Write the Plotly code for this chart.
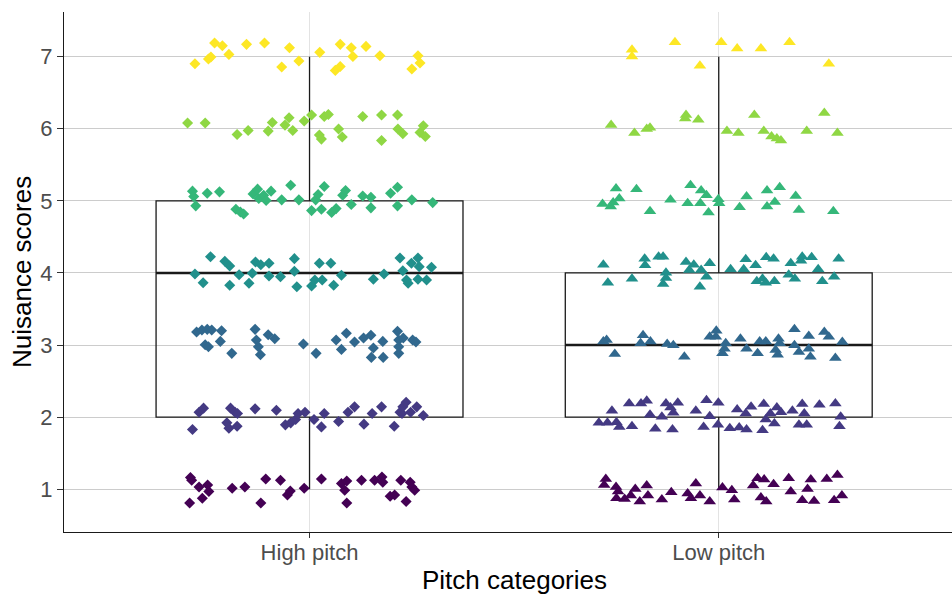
import plotly.graph_objects as go

# ---- data ----
categories = ["High pitch", "Low pitch"]
cat_pos = [1, 2]

# box statistics (score units)
box_q1 = [2, 2]
box_median = [4, 3]
box_q3 = [5, 4]
box_lower = [1, 1]
box_upper = [7, 7]

y_ticks = [1, 2, 3, 4, 5, 6, 7]
viridis7 = ["#440154", "#443A83", "#31688E", "#21908C", "#35B779", "#8FD744", "#FDE725"]

# jittered points: horizontal offset from category centre, jittered score
high_dx = [
    -0.280, -0.247, -0.241, -0.232, -0.213, -0.197, -0.154, -0.110, -0.068, -0.049, -0.026, 0.025, 0.063, 0.075, 0.075, 0.102, 0.106, 0.138, 0.172, 0.250, 0.265, 0.270,
    -0.298, -0.255, -0.177, -0.150, -0.101, -0.091, -0.060, -0.050, -0.041, -0.013, 0.005, 0.024, 0.029, 0.036, 0.046, 0.071, 0.080, 0.130, 0.176, 0.176, 0.215, 0.216, 0.228, 0.270, 0.278, 0.283,
    -0.286, -0.283, -0.278, -0.250, -0.220, -0.180, -0.169, -0.161, -0.138, -0.127, -0.124, -0.112, -0.106, -0.094, -0.068, -0.046, -0.026, 0.005, 0.015, 0.021, 0.029, 0.036, 0.054, 0.065, 0.081, 0.088, 0.102, 0.130, 0.150, 0.150, 0.198, 0.215, 0.215, 0.250, 0.301,
    -0.242, -0.280, -0.260, -0.207, -0.195, -0.195, -0.172, -0.148, -0.140, -0.132, -0.119, -0.099, -0.099, -0.071, -0.037, -0.037, -0.031, 0.005, 0.013, 0.024, 0.031, 0.052, 0.059, 0.078, 0.156, 0.182, 0.221, 0.228, 0.237, 0.241, 0.249, 0.265, 0.268, 0.265, 0.286, 0.298,
    -0.276, -0.263, -0.250, -0.239, -0.255, -0.247, -0.215, -0.218, -0.190, -0.133, -0.130, -0.125, -0.120, -0.101, -0.085, -0.015, 0.016, 0.065, 0.078, 0.090, 0.110, 0.132, 0.150, 0.156, 0.151, 0.179, 0.180, 0.215, 0.218, 0.218, 0.218, 0.229, 0.252, 0.260,
    -0.286, -0.270, -0.259, -0.202, -0.197, -0.193, -0.182, -0.176, -0.177, -0.133, -0.081, -0.059, -0.046, -0.034, -0.028, -0.011, 0.011, 0.029, 0.036, 0.071, 0.094, 0.110, 0.133, 0.153, 0.176, 0.207, 0.221, 0.228, 0.236, 0.247, 0.262, 0.278, 0.226,
    -0.291, -0.288, -0.270, -0.293, -0.262, -0.249, -0.246, -0.189, -0.158, -0.119, -0.107, -0.071, -0.054, -0.047, -0.013, 0.029, 0.078, 0.091, 0.086, 0.091, 0.127, 0.159, 0.177, 0.179, 0.197, 0.208, 0.223, 0.236, 0.246, 0.250, 0.257,
]
high_y = [
    6.903, 6.968, 6.996, 7.190, 7.153, 7.032, 7.171, 7.190, 6.857, 7.125, 6.940, 7.060, 6.810, 6.865, 7.171, 7.125, 7.004, 7.143, 7.014, 6.829, 7.014, 6.913,
    6.079, 6.079, 5.921, 5.976, 5.968, 6.088, 6.051, 6.153, 5.976, 6.107, 6.190, 5.913, 5.857, 6.171, 6.199, 5.996, 5.885, 6.171, 6.190, 5.838, 6.190, 5.996, 5.931, 5.949, 6.042, 5.893,
    5.135, 5.060, 4.931, 5.107, 5.125, 4.885, 4.847, 4.819, 5.097, 5.163, 5.032, 5.079, 5.004, 5.135, 5.014, 5.218, 5.014, 4.865, 5.014, 5.088, 4.885, 5.199, 4.838, 4.893, 5.079, 5.143, 4.949, 5.069, 5.051, 4.903, 5.107, 5.190, 4.931, 5.014, 4.976,
    4.226, 3.986, 3.865, 4.163, 4.097, 3.829, 3.976, 3.857, 3.996, 4.153, 4.115, 4.135, 3.958, 3.949, 4.199, 4.024, 3.810, 3.819, 3.903, 4.135, 3.903, 4.135, 3.829, 3.968, 3.913, 3.986, 4.208, 4.032, 3.903, 3.857, 4.135, 4.208, 4.088, 3.913, 3.903, 4.079,
    3.181, 3.208, 3.218, 3.208, 3.004, 2.976, 3.199, 3.051, 2.885, 3.218, 3.069, 2.976, 2.865, 3.143, 3.088, 3.014, 2.885, 3.069, 2.940, 3.163, 3.042, 3.097, 3.135, 2.958, 2.829, 3.051, 2.829, 3.190, 3.069, 2.976, 2.885, 3.097, 3.069, 3.042,
    1.829, 2.069, 2.125, 1.921, 1.847, 2.125, 2.069, 2.051, 1.875, 2.115, 2.097, 1.893, 1.921, 1.968, 2.051, 2.069, 1.968, 1.865, 2.051, 1.940, 2.069, 2.143, 1.903, 2.051, 2.143, 1.875, 2.069, 2.143, 2.208, 2.069, 2.143, 2.024, 2.051,
    1.163, 1.125, 1.032, 0.810, 0.875, 1.060, 0.968, 1.014, 1.032, 0.810, 1.143, 1.125, 0.921, 0.976, 1.014, 1.143, 1.079, 1.115, 0.986, 0.810, 1.125, 1.125, 1.171, 1.097, 0.903, 0.921, 1.125, 0.829, 1.097, 1.032, 0.986,
]

low_dx = [
    -0.212, -0.212, -0.107, -0.046, 0.006, 0.045, 0.103, 0.173, 0.269,
    -0.263, -0.206, -0.176, -0.168, -0.080, -0.082, -0.050, 0.020, 0.048, 0.087, 0.110, 0.129, 0.142, 0.152, 0.215, 0.258, 0.290,
    -0.251, -0.201, -0.284, -0.264, -0.258, -0.243, -0.168, -0.118, -0.076, -0.069, -0.043, -0.045, -0.030, -0.025, -0.001, 0.001, 0.051, 0.068, 0.118, 0.118, 0.137, 0.149, 0.188, 0.196, 0.280,
    -0.282, -0.271, -0.212, -0.181, -0.180, -0.147, -0.136, -0.129, -0.129, -0.136, -0.080, -0.072, -0.061, -0.043, -0.046, -0.030, -0.022, 0.029, 0.061, 0.066, 0.090, 0.093, 0.107, 0.116, 0.134, 0.115, 0.136, 0.171, 0.176, 0.186, 0.201, 0.204, 0.227, 0.243, 0.253, 0.282, 0.293,
    -0.282, -0.274, -0.254, -0.191, -0.185, -0.167, -0.126, -0.111, -0.084, -0.022, -0.006, -0.007, 0.009, 0.017, 0.014, 0.053, 0.068, 0.095, 0.100, 0.115, 0.139, 0.146, 0.149, 0.144, 0.185, 0.185, 0.196, 0.220, 0.220, 0.224, 0.258, 0.269, 0.285, 0.302,
    -0.293, -0.272, -0.261, -0.250, -0.243, -0.219, -0.212, -0.190, -0.176, -0.168, -0.155, -0.139, -0.129, -0.118, -0.111, -0.100, -0.113, -0.056, -0.037, -0.030, -0.022, -0.001, -0.002, 0.027, 0.045, 0.050, 0.066, 0.079, 0.068, 0.107, 0.110, 0.115, 0.126, 0.136, 0.142, 0.152, 0.180, 0.196, 0.204, 0.209, 0.215, 0.246, 0.285, 0.298, 0.295,
    -0.276, -0.280, -0.251, -0.246, -0.250, -0.230, -0.215, -0.204, -0.193, -0.176, -0.173, -0.139, -0.116, -0.076, -0.068, -0.056, -0.046, -0.022, 0.009, 0.032, 0.038, 0.084, 0.095, 0.111, 0.103, 0.116, 0.134, 0.171, 0.176, 0.204, 0.217, 0.225, 0.233, 0.264, 0.282, 0.290, 0.301,
]
low_y = [
    7.097, 7.004, 7.199, 6.875, 7.199, 7.115, 7.115, 7.199, 6.903,
    6.051, 5.940, 5.996, 6.014, 6.190, 6.143, 6.125, 5.968, 5.940, 6.190, 5.968, 5.893, 5.865, 5.838, 5.968, 6.218, 5.940,
    5.171, 5.163, 4.958, 4.921, 4.976, 5.032, 4.857, 5.014, 4.968, 5.218, 5.143, 4.968, 5.079, 4.838, 5.024, 4.968, 4.913, 5.060, 5.143, 4.921, 4.986, 5.190, 5.069, 4.875, 4.857,
    4.115, 3.865, 3.921, 4.199, 4.107, 4.226, 4.226, 4.004, 3.931, 3.847, 4.153, 4.042, 4.115, 4.042, 3.810, 3.949, 4.135, 4.051, 4.051, 4.190, 4.107, 3.885, 3.921, 4.218, 4.199, 3.865, 3.885, 3.976, 4.135, 3.921, 4.171, 4.226, 4.218, 4.051, 3.885, 3.949, 4.199,
    3.051, 3.069, 2.875, 3.024, 3.135, 3.051, 3.014, 2.996, 2.838, 3.115, 3.199, 3.115, 2.885, 3.024, 2.949, 3.088, 2.949, 2.885, 3.051, 3.051, 2.931, 3.088, 3.024, 2.865, 3.218, 2.996, 2.903, 3.125, 2.949, 2.838, 3.181, 3.115, 2.819, 3.042,
    1.921, 1.921, 2.088, 1.931, 1.865, 2.190, 1.875, 2.190, 2.226, 2.032, 1.838, 2.004, 2.190, 2.135, 2.060, 2.199, 1.829, 2.088, 1.865, 2.236, 2.014, 2.199, 1.893, 1.847, 2.107, 1.857, 2.051, 2.143, 1.829, 1.819, 2.181, 1.968, 2.051, 1.913, 2.135, 2.069, 2.088, 1.893, 2.181, 2.051, 1.893, 2.171, 2.190, 2.004, 1.875,
    1.143, 1.060, 1.032, 0.968, 0.875, 0.865, 0.913, 1.004, 0.829, 1.051, 0.913, 0.857, 0.958, 0.940, 0.875, 1.079, 0.913, 0.829, 1.024, 0.986, 0.857, 1.051, 1.153, 1.135, 0.885, 0.829, 1.069, 1.153, 0.968, 0.847, 1.004, 1.135, 0.838, 1.143, 0.847, 1.199, 0.913,
]

# ---- figure ----
BOX_WIDTH = 0.75
FONT = "Liberation Sans, Arial, sans-serif"

fig = go.Figure()

for i, pos in enumerate(cat_pos):
    fig.add_trace(go.Box(
        x=[pos], q1=[box_q1[i]], median=[box_median[i]], q3=[box_q3[i]],
        lowerfence=[box_lower[i]], upperfence=[box_upper[i]],
        width=BOX_WIDTH, whiskerwidth=0, boxpoints=False,
        fillcolor="rgba(255,255,255,0)",
        line=dict(color="#1a1a1a", width=1.3),
        showlegend=False, hoverinfo="skip",
    ))
    # thicker median line as in ggplot
    fig.add_trace(go.Scatter(
        x=[pos - BOX_WIDTH / 2, pos + BOX_WIDTH / 2],
        y=[box_median[i], box_median[i]],
        mode="lines", line=dict(color="#1a1a1a", width=2.6),
        showlegend=False, hoverinfo="skip",
    ))


def colours(ys):
    return [viridis7[int(round(v)) - 1] for v in ys]


fig.add_trace(go.Scatter(
    x=[cat_pos[0] + d for d in high_dx], y=high_y, mode="markers",
    marker=dict(symbol="diamond", size=8.5, color=colours(high_y), line=dict(width=0)),
    showlegend=False,
))
fig.add_trace(go.Scatter(
    x=[cat_pos[1] + d for d in low_dx], y=low_y, mode="markers",
    marker=dict(symbol="triangle-up", size=11, color=colours(low_y), line=dict(width=0)),
    showlegend=False,
))

W, H = 952, 595
ML, MR, MT, MB = 64, 0, 12, 63
PW, PH = W - ML - MR, H - MT - MB

fig.update_layout(
    width=W, height=H,
    margin=dict(l=ML, r=MR, t=MT, b=MB, pad=0),
    paper_bgcolor="white", plot_bgcolor="white",
    font=dict(family=FONT, color="#4d4d4d"),
    xaxis=dict(
        range=[0.4, 2.57], tickmode="array", tickvals=cat_pos, ticktext=categories,
        showgrid=True, gridcolor="#e3e3e3", gridwidth=1,
        showline=True, linecolor="#1a1a1a", linewidth=1.2,
        ticks="outside", ticklen=5, tickcolor="#333333", tickwidth=1,
        ticklabelstandoff=-5,
        tickfont=dict(size=22, color="#4d4d4d", family=FONT),
        zeroline=False, automargin=False,
    ),
    yaxis=dict(
        range=[0.407, 7.62], tickmode="array", tickvals=y_ticks,
        showgrid=True, gridcolor="#cccccc", gridwidth=1,
        showline=True, linecolor="#1a1a1a", linewidth=1.2,
        ticks="outside", ticklen=6, tickcolor="#333333", tickwidth=1,
        tickfont=dict(size=22, color="#4d4d4d", family=FONT),
        zeroline=False, automargin=False,
    ),
    annotations=[
        dict(text="Pitch categories", xref="paper", yref="paper",
             x=(514.7 - ML) / PW, y=(H - MB - 580) / PH,
             xanchor="center", yanchor="middle", showarrow=False,
             font=dict(size=26, color="black", family=FONT)),
        dict(text="Nuisance scores", xref="paper", yref="paper",
             x=(22 - ML) / PW, y=(H - MB - 272) / PH, textangle=-90,
             xanchor="center", yanchor="middle", showarrow=False,
             font=dict(size=26, color="black", family=FONT)),
    ],
)

fig.write_html("out.html")
